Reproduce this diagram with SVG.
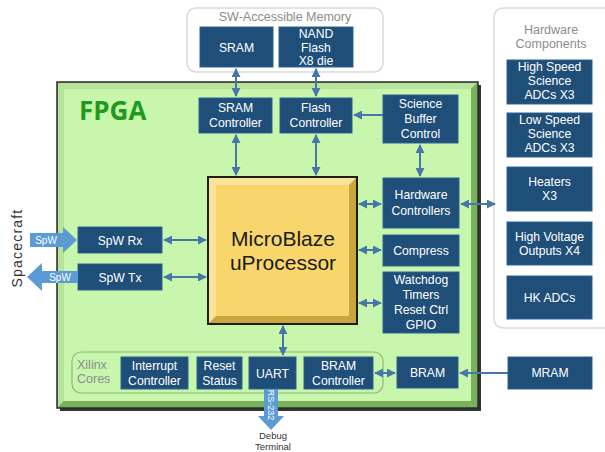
<svg xmlns="http://www.w3.org/2000/svg" width="605" height="452" viewBox="0 0 605 452">
<defs>
<style>
.box{fill:#1f4e79;stroke:#2f6396;stroke-width:1}
.t{font-family:"Liberation Sans",Arial,sans-serif;font-size:12.2px;fill:#ffffff;text-anchor:middle}
.g{font-family:"Liberation Sans",Arial,sans-serif;font-size:12.5px;fill:#8c8c8c}
.c{stroke:#4677ab;stroke-width:2;fill:none}
.grp{fill:#ffffff;stroke:#d9d9d9;stroke-width:1.5}
</style>
<marker id="ah" viewBox="0 0 10 10" refX="9" refY="5" markerWidth="4.5" markerHeight="4.5" orient="auto-start-reverse" markerUnits="strokeWidth">
<path d="M0,0 L10,5 L0,10 z" fill="#4677ab"/>
</marker>
</defs>
<rect width="605" height="452" fill="#ffffff"/>

<!-- group containers -->
<g id="sw-memory">
<rect class="grp" x="187" y="8" width="196" height="64" rx="9"/>
<text class="g" x="285" y="21" text-anchor="middle">SW-Accessible Memory</text>
</g>
<g id="hw-components">
<rect class="grp" x="494" y="8" width="120" height="320" rx="9"/>
<text class="g" x="551" y="34" text-anchor="middle">Hardware</text>
<text class="g" x="551" y="48" text-anchor="middle">Components</text>
</g>

<!-- FPGA -->
<g id="fpga">
<rect x="60" y="85" width="421" height="326" fill="#333333"/>
<rect x="57" y="82" width="421" height="326" fill="#88c06a" stroke="#2b2b2b" stroke-width="1.5"/>
<polygon points="58,83 477,83 471,89 64,89 64,401 58,407" fill="#b8e39c"/>
<polygon points="477,83 477,407 58,407 64,401 471,401 471,89" fill="#79b25a"/>
<rect x="64" y="89" width="407" height="312" fill="#c8f6ad"/>
<text x="79" y="120" font-family="'Open Sans','Liberation Sans',sans-serif" font-size="26" font-weight="bold" fill="#1f9a1f">FPGA</text>
</g>

<g id="xilinx-cores">
<rect x="72" y="352" width="311" height="41" rx="9" fill="none" stroke="#8fb87a" stroke-width="1.2"/>
<text class="g" x="77" y="369" fill="#9a9a9a">Xilinx</text>
<text class="g" x="77" y="383" fill="#9a9a9a">Cores</text>
</g>

<!-- MicroBlaze -->
<g id="microblaze">
<rect x="208" y="177" width="149" height="147" fill="#f7d567" stroke="#1e1e1e" stroke-width="2"/>
<polygon points="209,178 356,178 349,185 216,185 216,316 209,323" fill="#fbe49a"/>
<polygon points="356,178 356,323 209,323 216,316 349,316 349,185" fill="#c9a53e"/>
<rect x="216" y="185" width="133" height="131" fill="#f8d66c"/>
<text x="283" y="246" font-family="'Liberation Sans',Arial,sans-serif" font-size="21" fill="#1a1a1a" text-anchor="middle">MicroBlaze</text>
<text x="283" y="270" font-family="'Liberation Sans',Arial,sans-serif" font-size="21" fill="#1a1a1a" text-anchor="middle">uProcessor</text>
</g>

<!-- connectors -->
<g id="connectors">
<line class="c" x1="236" y1="69" x2="236" y2="96" marker-start="url(#ah)" marker-end="url(#ah)"/>
<line class="c" x1="316" y1="69" x2="316" y2="96" marker-start="url(#ah)" marker-end="url(#ah)"/>
<line class="c" x1="236" y1="135" x2="236" y2="175" marker-start="url(#ah)" marker-end="url(#ah)"/>
<line class="c" x1="316" y1="135" x2="316" y2="175" marker-start="url(#ah)" marker-end="url(#ah)"/>
<line class="c" x1="383" y1="115" x2="354" y2="115" marker-end="url(#ah)"/>
<line class="c" x1="420" y1="145" x2="420" y2="176" marker-start="url(#ah)" marker-end="url(#ah)"/>
<line class="c" x1="359" y1="204" x2="381" y2="204" marker-start="url(#ah)" marker-end="url(#ah)"/>
<line class="c" x1="359" y1="250" x2="381" y2="250" marker-start="url(#ah)" marker-end="url(#ah)"/>
<line class="c" x1="359" y1="303" x2="381" y2="303" marker-start="url(#ah)" marker-end="url(#ah)"/>
<line class="c" x1="461" y1="204" x2="495" y2="204" marker-start="url(#ah)" marker-end="url(#ah)"/>
<line class="c" x1="164" y1="240" x2="206" y2="240" marker-start="url(#ah)" marker-end="url(#ah)"/>
<line class="c" x1="164" y1="277" x2="206" y2="277" marker-start="url(#ah)" marker-end="url(#ah)"/>
<line class="c" x1="283" y1="326" x2="283" y2="355" marker-start="url(#ah)" marker-end="url(#ah)"/>
<line class="c" x1="375" y1="373" x2="395" y2="373" marker-start="url(#ah)" marker-end="url(#ah)"/>
<line class="c" x1="508" y1="373" x2="460" y2="373" marker-end="url(#ah)"/>
</g>

<!-- memory -->
<g id="sram"><rect class="box" x="200" y="27" width="73" height="40"/><text class="t" x="236.5" y="52">SRAM</text></g>
<g id="nand"><rect class="box" x="279" y="27" width="74" height="40"/><text class="t" x="316" y="38" font-size="11.5">NAND</text><text class="t" x="316" y="51.5" font-size="11.5">Flash</text><text class="t" x="316" y="65" font-size="11.5">X8 die</text></g>

<!-- FPGA internal blocks -->
<g id="sram-ctrl"><rect class="box" x="199" y="98" width="73" height="35"/><text class="t" x="235.5" y="112">SRAM</text><text class="t" x="235.5" y="127">Controller</text></g>
<g id="flash-ctrl"><rect class="box" x="280" y="98" width="72" height="35"/><text class="t" x="316" y="112">Flash</text><text class="t" x="316" y="127">Controller</text></g>
<g id="sci-buffer"><rect class="box" x="383" y="95" width="75" height="48"/><text class="t" x="420.5" y="108">Science</text><text class="t" x="420.5" y="123">Buffer</text><text class="t" x="420.5" y="138">Control</text></g>
<g id="hw-ctrl"><rect class="box" x="383" y="178" width="76" height="50"/><text class="t" x="421" y="199">Hardware</text><text class="t" x="421" y="215">Controllers</text></g>
<g id="compress"><rect class="box" x="383" y="235" width="76" height="31"/><text class="t" x="421" y="255">Compress</text></g>
<g id="watchdog"><rect class="box" x="383" y="272" width="76" height="61"/><text class="t" x="421" y="284">Watchdog</text><text class="t" x="421" y="299">Timers</text><text class="t" x="421" y="314">Reset Ctrl</text><text class="t" x="421" y="329">GPIO</text></g>
<g id="spw-rx"><rect class="box" x="78" y="227" width="84" height="26"/><text class="t" x="120" y="245">SpW Rx</text></g>
<g id="spw-tx"><rect class="box" x="78" y="264" width="84" height="26"/><text class="t" x="120" y="282">SpW Tx</text></g>
<g id="interrupt"><rect class="box" x="121" y="357" width="67" height="32"/><text class="t" x="154.5" y="370">Interrupt</text><text class="t" x="154.5" y="385">Controller</text></g>
<g id="reset-status"><rect class="box" x="197" y="357" width="45" height="32"/><text class="t" x="219.5" y="370">Reset</text><text class="t" x="219.5" y="385">Status</text></g>
<g id="uart"><rect class="box" x="249" y="357" width="47" height="32"/><text class="t" x="272.5" y="378">UART</text></g>
<g id="bram-ctrl"><rect class="box" x="304" y="357" width="69" height="32"/><text class="t" x="338.5" y="370">BRAM</text><text class="t" x="338.5" y="385">Controller</text></g>
<g id="bram"><rect class="box" x="397" y="357" width="61" height="31"/><text class="t" x="427.5" y="377">BRAM</text></g>

<!-- hardware components -->
<g id="hs-adc"><rect class="box" x="507" y="60" width="85" height="44"/><text class="t" x="549.5" y="71">High Speed</text><text class="t" x="549.5" y="85">Science</text><text class="t" x="549.5" y="99">ADCs X3</text></g>
<g id="ls-adc"><rect class="box" x="507" y="113" width="85" height="44"/><text class="t" x="549.5" y="124">Low Speed</text><text class="t" x="549.5" y="138">Science</text><text class="t" x="549.5" y="152">ADCs X3</text></g>
<g id="heaters"><rect class="box" x="507" y="167" width="85" height="44"/><text class="t" x="549.5" y="186">Heaters</text><text class="t" x="549.5" y="200">X3</text></g>
<g id="hv-out"><rect class="box" x="507" y="222" width="85" height="43"/><text class="t" x="549.5" y="241">High Voltage</text><text class="t" x="549.5" y="255">Outputs X4</text></g>
<g id="hk-adc"><rect class="box" x="507" y="276" width="85" height="43"/><text class="t" x="549.5" y="302">HK ADCs</text></g>
<g id="mram"><rect class="box" x="508" y="357" width="84" height="32"/><text class="t" x="550" y="377">MRAM</text></g>

<!-- external links -->
<g id="spw-in">
<polygon points="30,233 63,233 63,227 77,240 63,253 63,247 30,247" fill="#5b9bd5"/>
<text x="46" y="244" font-family="'Liberation Sans',Arial,sans-serif" font-size="10" fill="#ffffff" text-anchor="middle">SpW</text>
</g>
<g id="spw-out">
<polygon points="78,271 42,271 42,263 27,277 42,291 42,283 78,283" fill="#5b9bd5"/>
<text x="60" y="281" font-family="'Liberation Sans',Arial,sans-serif" font-size="10" fill="#ffffff" text-anchor="middle">SpW</text>
</g>
<g id="spacecraft">
<text transform="translate(22,248) rotate(-90)" font-family="'Liberation Sans',Arial,sans-serif" font-size="14" letter-spacing="1.2" fill="#333333" text-anchor="middle">Spacecraft</text>
</g>
<g id="rs232">
<polygon points="264,389 278,389 278,416 284,416 271,430 258,416 264,416" fill="#5b9bd5"/>
<text transform="translate(268,405) rotate(90)" font-family="'Liberation Sans',Arial,sans-serif" font-size="9" fill="#ffffff" text-anchor="middle">RS-232</text>
</g>
<g id="debug-terminal">
<text x="273" y="439" font-family="'Liberation Sans',Arial,sans-serif" font-size="9.5" fill="#333333" text-anchor="middle">Debug</text>
<text x="273" y="450" font-family="'Liberation Sans',Arial,sans-serif" font-size="9.5" fill="#333333" text-anchor="middle">Terminal</text>
</g>
</svg>
